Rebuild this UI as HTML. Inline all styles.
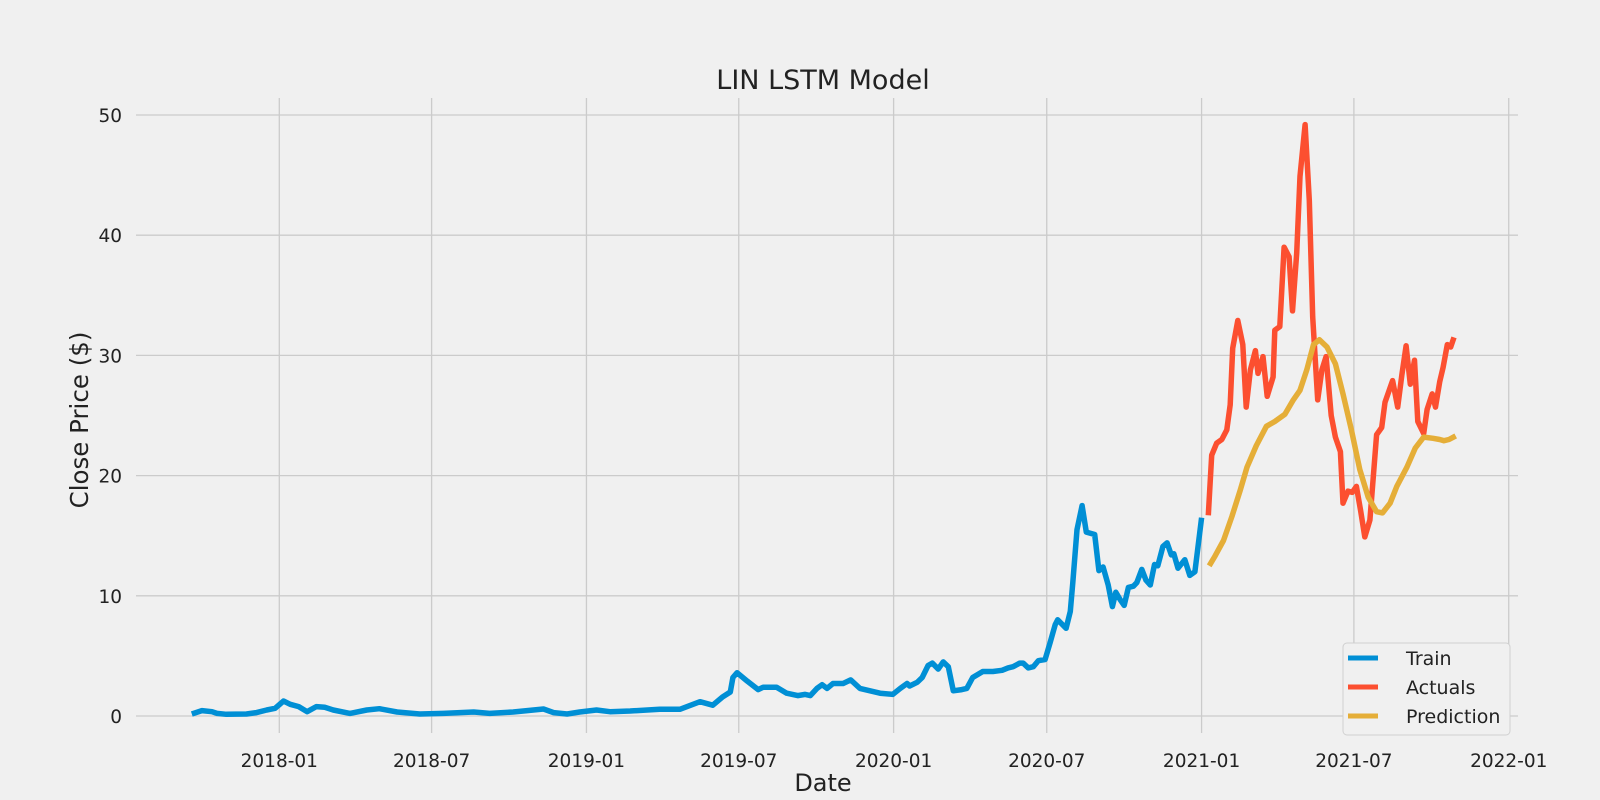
<!DOCTYPE html>
<html><head><meta charset="utf-8"><style>
html,body{margin:0;padding:0;background:#f0f0f0;}
svg{display:block;font-family:"DejaVu Sans","Liberation Sans",sans-serif;}
</style></head><body>
<svg id="chart" width="1600" height="800" viewBox="0 0 1600 800">
<rect x="0" y="0" width="1600" height="800" fill="#f0f0f0"/>
<g id="grid"></g>
<g id="series"></g>
<g id="ticks"></g>
<text x="823" y="89" text-anchor="middle" font-size="27" fill="#222">LIN LSTM Model</text>
<text x="823" y="791" text-anchor="middle" font-size="24" fill="#222">Date</text>
<text transform="translate(88,420) rotate(-90)" text-anchor="middle" font-size="24.5" fill="#222">Close Price ($)</text>
<g>
<rect x="1343" y="643" width="167" height="92" rx="4" fill="#f0f0f0" stroke="#d0d0d0" stroke-width="1"/>
<g><line x1="1348" y1="658" x2="1378" y2="658" stroke="#008fd5" stroke-width="5"/><text x="1406" y="665" font-size="19" fill="#222">Train</text></g>
<g><line x1="1348" y1="687" x2="1378" y2="687" stroke="#fc4f30" stroke-width="5"/><text x="1406" y="694" font-size="19" fill="#222">Actuals</text></g>
<g><line x1="1348" y1="716" x2="1378" y2="716" stroke="#e5ae38" stroke-width="5"/><text x="1406" y="723" font-size="19" fill="#222">Prediction</text></g>
</g>
</svg>
<script>
// days since 2018-01-01
const trainDays=[-104,-92,-80,-74,-63,-39,-27,-15,-5,1,5,13,23,33,44,54,64,84,104,119,140,167,195,231,250,278,314,326,342,357,377,393,417,452,476,500,515,527,536,539,544,556,569,575,591,603,616,625,631,639,645,651,658,670,679,690,702,714,729,738,746,749,758,764,771,776,783,789,795,801,811,817,824,836,848,859,866,872,880,884,890,896,902,910,916,922,925,935,940,943,948,954,959,969,974,979,985,990,994,999,1004,1009,1015,1019,1025,1030,1035,1040,1044,1050,1055,1060,1063,1068,1076,1082,1088,1096];
const trainValues=[0.17,0.45,0.36,0.22,0.14,0.17,0.28,0.5,0.64,1.0,1.25,0.97,0.78,0.36,0.78,0.72,0.5,0.22,0.5,0.61,0.33,0.17,0.22,0.33,0.22,0.33,0.58,0.28,0.17,0.33,0.5,0.36,0.42,0.56,0.56,1.19,0.9,1.6,2.0,3.2,3.6,2.9,2.2,2.4,2.4,1.9,1.7,1.8,1.7,2.3,2.6,2.3,2.7,2.7,3.0,2.3,2.1,1.9,1.8,2.3,2.7,2.5,2.8,3.2,4.2,4.4,3.9,4.5,4.1,2.1,2.2,2.3,3.2,3.7,3.7,3.8,4.0,4.1,4.4,4.4,4.0,4.1,4.6,4.7,6.1,7.6,8.0,7.3,8.7,11.1,15.5,17.5,15.3,15.1,12.1,12.4,10.9,9.1,10.3,9.7,9.2,10.7,10.8,11.1,12.2,11.3,10.9,12.6,12.5,14.1,14.4,13.4,13.5,12.3,13.0,11.7,12.0,16.5];
const actualDays=[1104,1108,1114,1120,1126,1130,1133,1139,1145,1149,1154,1160,1163,1169,1174,1181,1183,1189,1194,1200,1204,1209,1213,1219,1224,1228,1234,1239,1244,1250,1255,1261,1264,1270,1275,1280,1285,1290,1296,1300,1304,1310,1314,1319,1323,1329,1334,1339,1344,1349,1353,1360,1364,1370,1374,1379,1383,1388,1392,1396];
const actualValues=[16.7,21.7,22.7,23.0,23.8,25.9,30.6,32.9,30.9,25.7,28.8,30.4,28.5,29.9,26.6,28.2,32.1,32.4,39.0,38.2,33.7,38.5,44.9,49.2,42.9,33.2,26.3,28.8,29.9,25.0,23.2,22.0,17.7,18.7,18.6,19.1,17.1,14.9,16.3,19.9,23.4,24.0,26.1,27.1,27.9,25.7,28.4,30.8,27.6,29.6,24.5,23.5,25.5,26.8,25.7,27.8,29.0,30.9,30.7,31.5];
const predDays=[1105,1112,1122,1132,1142,1150,1161,1173,1183,1195,1205,1213,1221,1229,1236,1245,1255,1264,1274,1284,1294,1304,1311,1320,1328,1340,1350,1360,1371,1379,1384,1390,1398];
const predValues=[12.5,13.3,14.6,16.6,18.8,20.7,22.5,24.1,24.5,25.1,26.3,27.1,28.8,30.9,31.3,30.7,29.3,26.8,23.8,20.5,18.2,17.0,16.9,17.7,19.1,20.7,22.3,23.2,23.1,23.0,22.9,23.0,23.3];
const yTicks=[0,10,20,30,40,50];
const xTickLabels=["2018-01","2018-07","2019-01","2019-07","2020-01","2020-07","2021-01","2021-07","2022-01"];

const NS="http://www.w3.org/2000/svg";
const L=136,R=1518,T=98,B=733;
function xs(d){return 279.3+d*0.8415;}
function ys(v){return 716-v*12.02;}
function mk(tag,attrs,parent){const e=document.createElementNS(NS,tag);for(const k in attrs)e.setAttribute(k,attrs[k]);parent.appendChild(e);return e;}
const grid=document.getElementById('grid'),ticks=document.getElementById('ticks'),series=document.getElementById('series');
const base=Date.UTC(2018,0,1);
yTicks.forEach(v=>{
  const g=mk('line',{x1:L,x2:R,y1:ys(v),y2:ys(v),stroke:'#cbcbcb','stroke-width':1.3},grid);
  
  
  const t=mk('text',{x:122,y:ys(v)+7,'text-anchor':'end','font-size':18.5,fill:'#222'},ticks);
  t.textContent=String(v);
  
  
});
xTickLabels.forEach(s=>{
  const p=s.split('-');
  const d=(Date.UTC(+p[0],+p[1]-1,1)-base)/86400000;
  const g=mk('line',{x1:xs(d),x2:xs(d),y1:T,y2:B,stroke:'#cbcbcb','stroke-width':1.3},grid);
  
  
  const t=mk('text',{x:xs(d),y:767,'text-anchor':'middle','font-size':18.5,fill:'#222'},ticks);
  t.textContent=s;
  
  
});
function line(days,vals,color,name){
  const pts=days.map((d,i)=>xs(d).toFixed(1)+','+ys(vals[i]).toFixed(1)).join(' ');
  const p=mk('polyline',{points:pts,fill:'none',stroke:color,'stroke-width':5.5,'stroke-linejoin':'round','stroke-linecap':'butt'},series);
  
  
}
line(trainDays,trainValues,'#008fd5','train-line');
line(actualDays,actualValues,'#fc4f30','actuals-line');
line(predDays,predValues,'#e5ae38','prediction-line');
</script>
</body></html>
